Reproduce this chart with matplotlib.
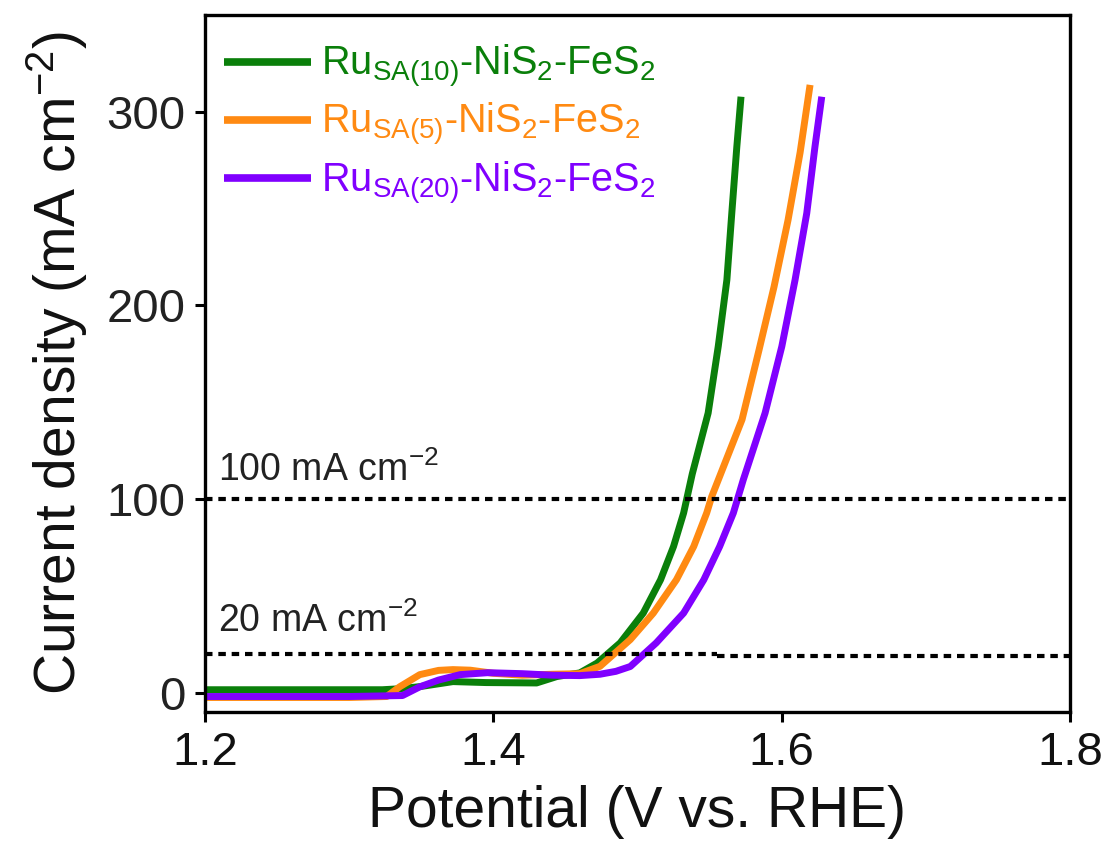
import matplotlib
matplotlib.use("Agg")
import matplotlib.pyplot as plt

plt.rcParams['font.family'] = ['Liberation Sans', 'DejaVu Sans']
plt.rcParams['mathtext.fontset'] = 'custom'
plt.rcParams['mathtext.rm'] = 'Liberation Sans'
plt.rcParams['mathtext.it'] = 'Liberation Sans:italic'
plt.rcParams['mathtext.bf'] = 'Liberation Sans:bold'

# ---- data ----
labels = [r'Ru$_{\mathrm{SA(10)}}$-NiS$_2$-FeS$_2$',
          r'Ru$_{\mathrm{SA(5)}}$-NiS$_2$-FeS$_2$',
          r'Ru$_{\mathrm{SA(20)}}$-NiS$_2$-FeS$_2$']
colors = ['#0a7f0a', '#ff8a12', '#8000ff']

x_sa10 = [1.20, 1.25, 1.30, 1.323, 1.335, 1.349, 1.372, 1.395, 1.43, 1.444, 1.460, 1.472,
          1.488, 1.504, 1.516, 1.525, 1.532, 1.538, 1.549, 1.556, 1.562, 1.5654, 1.5689,
          1.5718]
y_sa10 = [1.5, 1.5, 1.5, 1.5, 2.0, 3.1, 5.7, 5.2, 5.0, 8.3, 10.2, 15.3,
          25.7, 41.1, 58.3, 75.5, 92.8, 113.0, 144.4, 178.8, 213.2, 247.6, 282.0,
          307.8]

x_sa5 = [1.20, 1.25, 1.30, 1.326, 1.335, 1.349, 1.362, 1.372, 1.384, 1.40, 1.42, 1.441,
         1.460, 1.474, 1.495, 1.511, 1.527, 1.539, 1.548, 1.5515, 1.5725, 1.5843, 1.5947,
         1.6044, 1.6128, 1.6197]
y_sa5 = [-2.5, -2.5, -2.5, -2.0, 3.0, 9.3, 11.5, 11.9, 11.6, 10.0, 9.0, 9.5,
         9.8, 13.6, 27.4, 41.1, 58.3, 75.5, 92.8, 101.3, 141.0, 177.0, 209.6,
         244.0, 279.0, 313.9]

x_sa20 = [1.20, 1.25, 1.30, 1.337, 1.349, 1.362, 1.377, 1.396, 1.42, 1.441, 1.46, 1.474,
          1.485, 1.495, 1.513, 1.532, 1.546, 1.557, 1.5665, 1.5734, 1.5885, 1.6001, 1.6093,
          1.6174, 1.6231, 1.6278]
y_sa20 = [-2.0, -2.0, -2.0, -1.5, 3.0, 6.5, 9.3, 10.3, 9.8, 9.0, 8.8, 9.5,
          11.0, 13.5, 25.7, 41.1, 58.3, 75.5, 92.8, 110.0, 144.4, 178.8, 213.2,
          247.6, 282.0, 307.8]

ref_levels = [100, 20]
ref_texts = [r'100 mA cm$^{-2}$', r'20 mA cm$^{-2}$']

xticks = [1.2, 1.4, 1.6, 1.8]
yticks = [0, 100, 200, 300]

# ---- figure ----
fig = plt.figure(figsize=(11.1, 8.58), dpi=100)
ax = fig.add_axes([205/1110, 1-712/858, (1070-205)/1110, (712-15)/858])

series = [(x_sa10, y_sa10), (x_sa5, y_sa5), (x_sa20, y_sa20)]
for (xs, ys), c, lab in zip(series, colors, labels):
    ax.plot(xs, ys, color=c, lw=5.0, label=lab, solid_capstyle='butt',
            solid_joinstyle='round')

dot = (0, (1.8, 1.4))
ax.plot([1.2, 1.8], [ref_levels[0], ref_levels[0]], color='black', lw=3.0, linestyle=dot)
ax.plot([1.2, 1.555], [ref_levels[1], ref_levels[1]], color='black', lw=3.0, linestyle=dot)
ax.plot([1.555, 1.8], [ref_levels[1] - 1, ref_levels[1] - 1], color='black', lw=3.0, linestyle=dot)

ax.text(1.209, ref_levels[0] + 5, ref_texts[0], fontsize=27, color='#222222', va='bottom', ha='left')
ax.text(1.209, ref_levels[1] + 7, ref_texts[1], fontsize=27, color='#222222', va='bottom', ha='left')

ax.set_xlim(1.2, 1.8)
ax.set_ylim(-10, 350)
ax.set_xticks(xticks)
ax.set_xticklabels([f'{v:.1f}' for v in xticks])
ax.set_yticks(yticks)

for s in ax.spines.values():
    s.set_linewidth(2.4)
ax.tick_params(direction='out', length=7, width=2.2, labelsize=34, pad=7, colors='black')
ax.tick_params(axis='y', labelcolor='#222222')
ax.tick_params(axis='x', labelcolor='#111111')

ax.set_xlabel('Potential (V vs. RHE)', fontsize=41, labelpad=7, color='#111111')
ax.set_ylabel(r'Current density (mA cm$^{-2}$)', fontsize=41, labelpad=12, color='#111111')

leg = ax.legend(loc='upper left', bbox_to_anchor=(0.004, 0.982), frameon=False,
                fontsize=28.5, handlelength=2.2, handletextpad=0.25, labelspacing=0.28,
                borderaxespad=0, labelcolor='linecolor')
for h in leg.get_lines():
    h.set_linewidth(5.5)

fig.savefig('out.png', dpi=100)
